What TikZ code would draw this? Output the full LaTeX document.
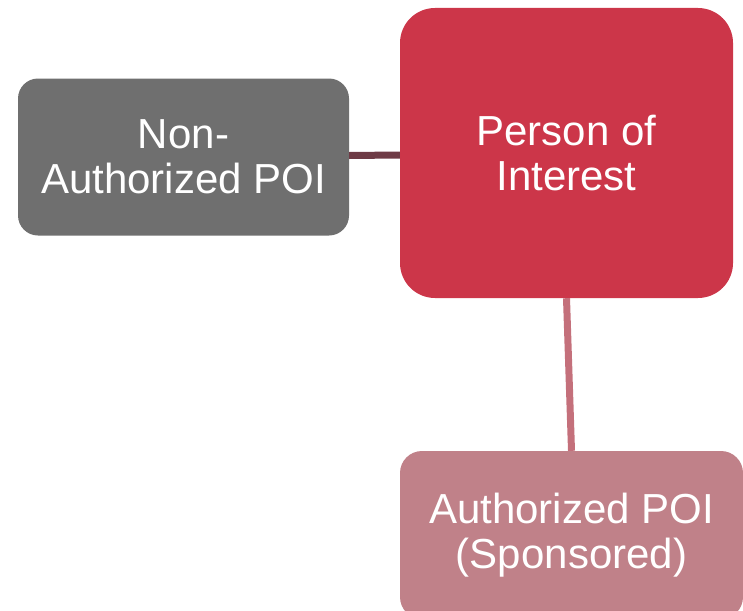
\documentclass[tikz,border=0pt]{standalone}
\usepackage{fontspec}
\setmainfont{Liberation Sans}
\definecolor{nongray}{HTML}{6F6F6F}
\definecolor{poired}{HTML}{CC3649}
\definecolor{authpink}{HTML}{C08189}
\definecolor{darklink}{HTML}{6E3A45}
\definecolor{pinklink}{HTML}{C4707B}
\begin{document}
\begin{tikzpicture}[x=1pt,y=-1pt,
  box/.style={rectangle, text=white, align=center, inner sep=0pt, font=\fontsize{42}{45}\selectfont},
  link/.style={line width=7pt}]
\useasboundingbox (0,0) rectangle (743,610);
\node[box, fill=nongray, rounded corners=20pt, minimum width=331pt, minimum height=157pt] (non) at (183.5,157) {Non-\\Authorized POI};
\node[box, fill=poired, rounded corners=35pt, minimum width=333pt, minimum height=290pt] (poi) at (566.5,153) {Person of\\Interest};
\node[box, fill=authpink, rounded corners=22pt, minimum width=343pt, minimum height=168pt] (auth) at (571.5,535) {Authorized POI\\(Sponsored)};
\draw[link, darklink] ([yshift=1.5pt]non.east) -- ([yshift=-2pt]poi.west);
\draw[link, pinklink] (poi.south) -- (auth.north);
\end{tikzpicture}
\end{document}
